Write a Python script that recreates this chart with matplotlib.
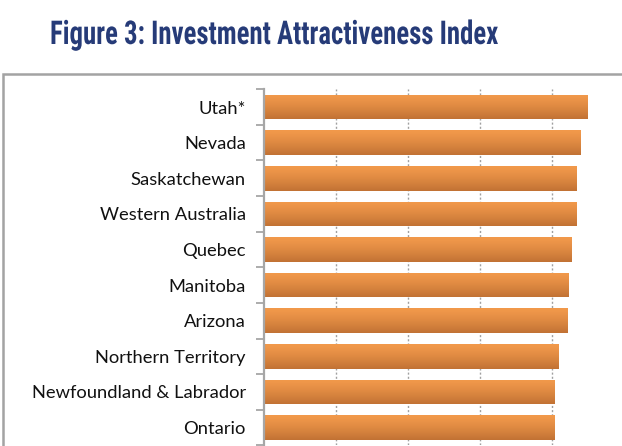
import matplotlib
matplotlib.use("Agg")
import matplotlib.pyplot as plt
import numpy as np
from matplotlib.patches import Rectangle
from matplotlib.patheffects import AbstractPathEffect
from matplotlib.transforms import Affine2D

categories = ["Utah*", "Nevada", "Saskatchewan", "Western Australia", "Quebec",
              "Manitoba", "Arizona", "Northern Territory",
              "Newfoundland & Labrador", "Ontario"]
values = [90.0, 87.8, 86.9, 86.7, 85.3, 84.7, 84.2, 81.9, 80.6, 80.6]
grid_ticks = [0, 20, 40, 60, 80, 100]


class XScale(AbstractPathEffect):
    """Fine-tune the horizontal width of a text around a display x position."""

    def __init__(self, sx, cx):
        super().__init__()
        self.sx = sx
        self.cx = cx

    def draw_path(self, renderer, gc, tpath, affine, rgbFace=None):
        t = affine + Affine2D().translate(-self.cx, 0).scale(self.sx, 1).translate(self.cx, 0)
        renderer.draw_path(gc, tpath, t, rgbFace)


W, H = 622, 446
fig = plt.figure(figsize=(W / 100, H / 100), dpi=100)

# outer frame
fig.add_artist(Rectangle((3 / W, -0.1), 1.0, (H - 74) / H + 0.1,
                         transform=fig.transFigure, fill=False,
                         ec="#a3a3a3", lw=1.8, zorder=0))

ax = fig.add_axes([264 / W, (H - 445.3) / H, 360 / W, 356 / H])

y = np.arange(len(categories))
bars = ax.barh(y, values, height=0.69, color="#e08a45", zorder=2)

grad = np.linspace(0, 1, 256)
top = np.array([242, 153, 75]) / 255
bot = np.array([193, 114, 52]) / 255
img = np.zeros((256, 1, 3))
for k in range(3):
    img[:, 0, k] = top[k] + (bot[k] - top[k]) * grad ** 1.3
for b in bars:
    x0, y0 = b.get_x(), b.get_y()
    w, h = b.get_width(), b.get_height()
    im = ax.imshow(img, extent=(x0, x0 + w, y0 + h, y0), aspect="auto",
                   zorder=3, interpolation="bilinear")
    im.set_clip_path(b)
ax.set_xlim(0, 100)
ax.set_ylim(len(categories) - 0.5, -0.5)

ax.set_xticks(grid_ticks)
ax.tick_params(axis="x", length=0, labelbottom=False)
for g in grid_ticks[1:]:
    ax.axvline(g, color="#a0a0a0", lw=1.0, ls=(0, (1.5, 1.5)), zorder=1)

ax.set_yticks(y)
ax.set_yticklabels(categories, fontsize=13.2, family=["Lato", "DejaVu Sans"],
                   color="#111111")
ax.tick_params(axis="y", which="major", length=0, pad=13)
ax.set_yticks(np.arange(-0.5, len(categories), 1), minor=True)
ax.tick_params(axis="y", which="minor", length=6, width=1.3, color="#a6a6a6",
               direction="out")

for s in ["top", "right", "bottom"]:
    ax.spines[s].set_visible(False)
ax.spines["left"].set_color("#a6a6a6")
ax.spines["left"].set_linewidth(1.6)
ax.spines["left"].set_zorder(5)

title_cx = 274
title = fig.text(title_cx / W, 1 - 44 / H, "Figure 3: Investment Attractiveness Index",
                 ha="center", va="baseline", fontsize=23.6, fontweight="bold",
                 family=["Roboto Condensed", "Roboto", "DejaVu Sans"], color="#263b78",
                 fontstretch="condensed")
fig.canvas.draw()
tw = title.get_window_extent().width
sx = 448.0 / tw
title.set_path_effects([XScale(sx, title_cx)])

fig.savefig("out.png", dpi=100)
